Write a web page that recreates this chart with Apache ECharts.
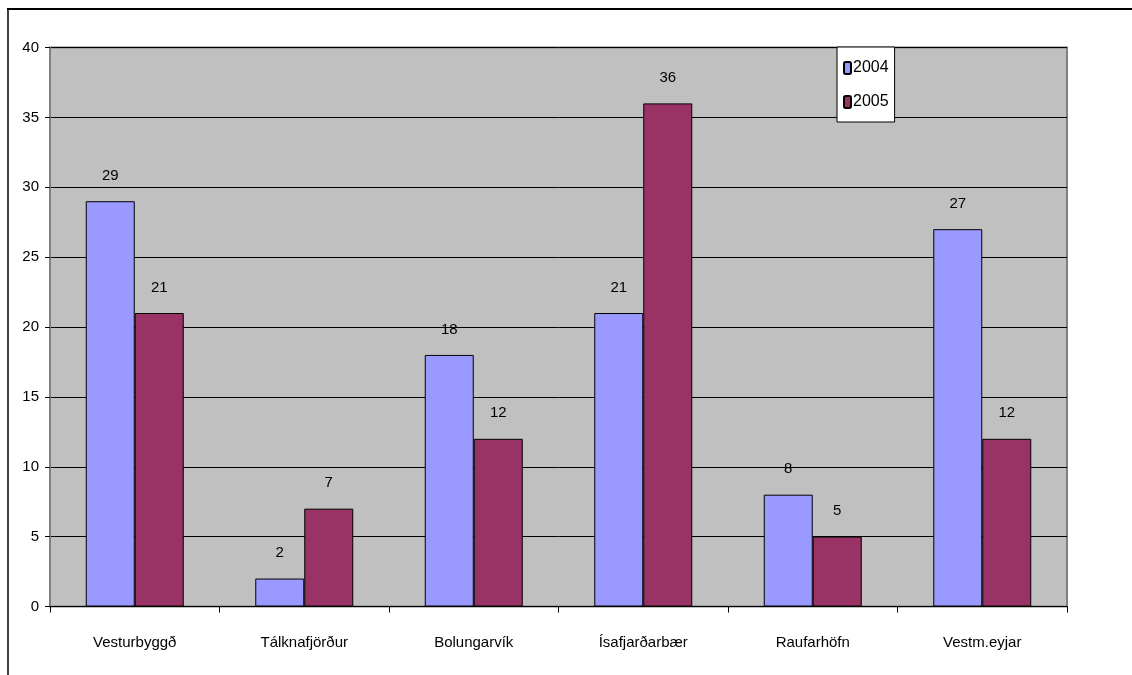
<!DOCTYPE html>
<html>
<head>
<meta charset="utf-8">
<script src="https://cdn.jsdelivr.net/npm/echarts@6/dist/echarts.min.js"></script>
<style>
  html, body { margin: 0; padding: 0; background: #fff; }
  #chart { width: 1132px; height: 675px; }
</style>
</head>
<body>
<div id="chart"></div>
<script>
const categories = ['Vesturbyggð', 'Tálknafjörður', 'Bolungarvík', 'Ísafjarðarbær', 'Raufarhöfn', 'Vestm.eyjar']
const values2004 = [29, 2, 18, 21, 8, 27]
const values2005 = [21, 7, 12, 36, 5, 12]
const yTicks = { min: 0, max: 40, interval: 5 }

const font = '"Liberation Sans", Arial, sans-serif'
const fontSize = 15
const chart = echarts.init(document.getElementById('chart'))

const barSeries = (name, data, color) => ({
  name: name,
  type: 'bar',
  data: data,
  barWidth: 49,
  barGap: '0%',
  itemStyle: { color: color, borderColor: '#000', borderWidth: 1 },
  label: {
    show: true,
    position: 'top',
    distance: 18,
    color: '#000',
    fontFamily: font,
    fontSize: fontSize
  },
  emphasis: { disabled: true }
})

chart.setOption({
  animation: false,
  textStyle: { fontFamily: font },
  graphic: [
    { type: 'line', shape: { x1: 7, y1: 9, x2: 1132, y2: 9 }, style: { stroke: '#000', lineWidth: 2 } },
    { type: 'line', shape: { x1: 8, y1: 8, x2: 8, y2: 675 }, style: { stroke: '#000', lineWidth: 1.5 } }
  ],
  grid: {
    left: 50,
    top: 47.5,
    width: 1017,
    height: 559,
    show: true,
    backgroundColor: '#C0C0C0',
    borderColor: '#808080',
    borderWidth: 2
  },
  legend: {
    orient: 'vertical',
    left: 837,
    top: 47,
    padding: [13, 6, 12, 6],
    itemGap: 18,
    itemWidth: 7,
    itemHeight: 12,
    backgroundColor: '#fff',
    borderColor: '#000',
    borderWidth: 1,
    textStyle: { fontFamily: font, fontSize: 16, color: '#000', padding: [0, 0, 0, -3] },
    data: ['2004', '2005']
  },
  xAxis: {
    type: 'category',
    data: categories,
    axisLine: { lineStyle: { color: '#000', width: 1 } },
    axisTick: { show: true, length: 6, lineStyle: { color: '#000' } },
    axisLabel: { color: '#000', fontSize: fontSize, fontFamily: font, margin: 29 }
  },
  yAxis: {
    type: 'value',
    min: yTicks.min,
    max: yTicks.max,
    interval: yTicks.interval,
    axisLine: { show: true, lineStyle: { color: '#808080' } },
    axisTick: { show: true, length: 5, lineStyle: { color: '#000' } },
    splitLine: { lineStyle: { color: '#000', width: 1 } },
    axisLabel: { color: '#000', fontSize: fontSize, fontFamily: font, margin: 11 }
  },
  series: [
    barSeries('2004', values2004, '#9999FF'),
    barSeries('2005', values2005, '#993366')
  ]
})
</script>
</body>
</html>
